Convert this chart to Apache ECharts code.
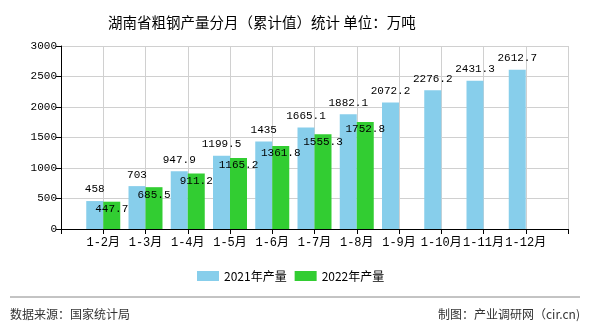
<!DOCTYPE html>
<html><head><meta charset="utf-8">
<script src="https://cdn.jsdelivr.net/npm/echarts@6/dist/echarts.min.js"></script>
<style>html,body{margin:0;padding:0;background:#fff}#c{width:590px;height:330px}</style>
</head><body><div id="c"></div>
<script>
const categories = ['', '1-2月', '1-3月', '1-4月', '1-5月', '1-6月', '1-7月', '1-8月', '1-9月', '1-10月', '1-11月', '1-12月', ''];
const values2021 = [null, 458, 703, 947.9, 1199.5, 1435, 1665.1, 1882.1, 2072.2, 2276.2, 2431.3, 2612.7, null];
const values2022 = [null, 447.7, 685.5, 911.2, 1165.2, 1361.8, 1555.3, 1752.8, null, null, null, null, null];
const seriesNames = ['2021年产量', '2022年产量'];
const yTicks = {min: 0, max: 3000, interval: 500};

const numFont = 'Liberation Mono, DejaVu Sans Mono, monospace';
const chart = echarts.init(document.getElementById('c'), null, {renderer: 'canvas'});
chart.setOption({
  animation: false,
  title: {
    text: '湖南省粗钢产量分月（累计值）统计 单位：万吨',
    left: 103, top: 10,
    textStyle: {fontSize: 14.5, fontWeight: 'normal', color: '#000', fontFamily: 'Noto Sans CJK SC'}
  },
  legend: {
    data: seriesNames, bottom: 43, left: 192, itemWidth: 22, itemHeight: 10, itemGap: 8,
    textStyle: {fontSize: 12, color: '#000', fontFamily: 'Noto Sans CJK SC'}, icon: 'rect'
  },
  grid: {left: 61, right: 22, top: 46, bottom: 101},
  xAxis: {
    type: 'category', data: categories, boundaryGap: false,
    axisLine: {lineStyle: {color: '#000'}},
    axisTick: {show: true, length: 5, lineStyle: {color: '#000'}},
    axisLabel: {color: '#000', fontSize: 12, fontFamily: numFont + ', Noto Sans CJK SC', margin: 8, interval: 0},
    splitLine: {show: true, lineStyle: {color: '#d0d0d0'}}
  },
  yAxis: {
    type: 'value', min: yTicks.min, max: yTicks.max, interval: yTicks.interval,
    axisLine: {show: true, lineStyle: {color: '#000'}},
    axisTick: {show: true, length: 5, lineStyle: {color: '#000'}},
    axisLabel: {color: '#000', fontSize: 11, fontFamily: numFont, margin: 4, formatter: v => String(v)},
    splitLine: {lineStyle: {color: '#d0d0d0'}}
  },
  series: [
    {name: seriesNames[0], type: 'bar', data: values2021, barWidth: 17, barGap: '0%',
     itemStyle: {color: '#87CEEB'},
     label: {show: true, position: 'top', distance: 6, color: '#000', fontSize: 11, fontFamily: numFont}},
    {name: seriesNames[1], type: 'bar', data: values2022, barWidth: 17,
     itemStyle: {color: '#32CD32'},
     label: {show: true, position: 'insideTop', distance: 2, color: '#000', fontSize: 11, fontFamily: numFont}}
  ],
  graphic: [
    {type: 'line', shape: {x1: 10, y1: 297, x2: 580, y2: 297}, style: {stroke: '#888', lineWidth: 1}},
    {type: 'text', left: 10, top: 308, style: {text: '数据来源：国家统计局', fontSize: 12, fill: '#333', fontFamily: 'Noto Sans CJK SC'}},
    {type: 'text', right: 10, top: 308, style: {text: '制图：产业调研网（cir.cn)', fontSize: 12, fill: '#333', fontFamily: 'Noto Sans CJK SC'}}
  ]
});
</script></body></html>
